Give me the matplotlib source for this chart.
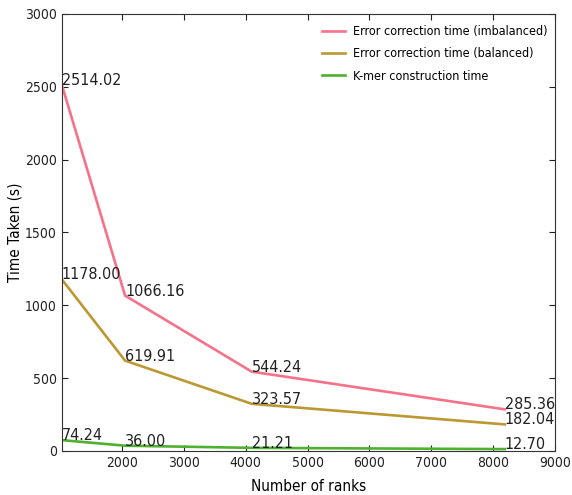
import matplotlib
matplotlib.use("Agg")
import matplotlib.pyplot as plt

plt.rcParams["font.family"] = ["DejaVu Sans"]
plt.rcParams["font.stretch"] = "condensed"

ranks = [1024, 2048, 4096, 8192]
err_imbalanced = [2514.02, 1066.16, 544.24, 285.36]
err_balanced = [1178.00, 619.91, 323.57, 182.04]
kmer_time = [74.24, 36.00, 21.21, 12.70]

labels = ["Error correction time (imbalanced)", "Error correction time (balanced)", "K-mer construction time"]
colors = ["#f77189", "#bb9832", "#50b131"]

fig = plt.figure(figsize=(5.72, 4.95), dpi=100)
ax = fig.add_axes([0.108, 0.089, 0.862, 0.883])

for ys, lab, c in zip([err_imbalanced, err_balanced, kmer_time], labels, colors):
    ax.plot(ranks, ys, color=c, linewidth=1.9, label=lab)
    for x, y in zip(ranks, ys):
        ax.text(x, y, "%.2f" % y, fontsize=11.5, color="#222222", va="baseline", ha="left")

ax.set_xlim(1024, 9000)
ax.set_ylim(0, 3000)
ax.set_xticks(range(2000, 9001, 1000))
ax.set_yticks(range(0, 3001, 500))
ax.tick_params(direction="in", top=True, right=True, labelsize=10, colors="#222222", length=4)
for sp in ax.spines.values():
    sp.set_color("#333333")
ax.set_xlabel("Number of ranks", fontsize=11)
ax.set_ylabel("Time Taken (s)", fontsize=11)
ax.yaxis.set_label_coords(-0.079, 0.5)
ax.xaxis.set_label_coords(0.5, -0.065)
ax.legend(loc="upper right", bbox_to_anchor=(1.0, 0.99), frameon=False, fontsize=9.0,
          handlelength=1.8, handletextpad=0.7, labelspacing=0.75, borderaxespad=0.15)

fig.savefig("out.png", dpi=100)
